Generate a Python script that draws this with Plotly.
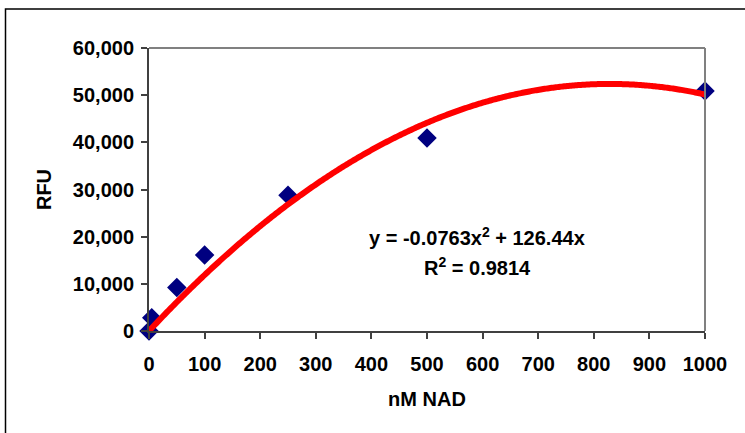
import numpy as np
import plotly.graph_objects as go

# Data
nad_nm = [0, 5, 50, 100, 250, 500, 1000]
rfu = [0, 2800, 9200, 16100, 28800, 40900, 50900]

# Trendline equation shown on the chart
trend_a = -0.0763
trend_b = 126.44
equation_text = "y = -0.0763x<sup>2</sup> + 126.44x"
r2_text = "R<sup>2</sup> = 0.9814"

x_ticks = [0, 100, 200, 300, 400, 500, 600, 700, 800, 900, 1000]
y_ticks = [0, 10000, 20000, 30000, 40000, 50000, 60000]

x_fit = np.linspace(min(nad_nm), max(nad_nm), 400)
y_fit = trend_a * x_fit ** 2 + trend_b * x_fit

FONT = "Liberation Sans, Arial, sans-serif"
FS = 20

W, H = 745, 433
L, T = 149, 48
pw, ph = 556, 283
R = W - L - pw
B = H - T - ph

def px(xp):
    return (xp - L) / pw

def py(yp):
    return (T + ph - yp) / ph

fig = go.Figure()
fig.add_trace(go.Scatter(
    x=nad_nm, y=rfu, mode="markers",
    marker=dict(symbol="diamond", size=15, color="#000080", line=dict(width=0)),
    cliponaxis=False, showlegend=False, hoverinfo="skip",
))
fig.add_trace(go.Scatter(
    x=x_fit, y=y_fit, mode="lines",
    line=dict(color="#FF0000", width=6, simplify=False),
    cliponaxis=False, showlegend=False, hoverinfo="skip",
))

fig.update_layout(
    width=W, height=H,
    margin=dict(l=L, r=R, t=T, b=B, pad=0),
    paper_bgcolor="white", plot_bgcolor="white",
    font=dict(family=FONT, size=FS, color="black"),
    xaxis=dict(
        range=[0, 1000], tickvals=x_ticks, showgrid=False, zeroline=False,
        showline=True, linecolor="#404040", linewidth=2,
        ticks="outside", ticklen=6, tickwidth=1.5, tickcolor="#404040",
        ticklabelstandoff=8,
        tickfont=dict(family=FONT, size=FS, weight="bold"),
        title=dict(text="nM NAD", font=dict(family=FONT, size=FS, weight="bold"), standoff=18),
    ),
    yaxis=dict(
        range=[0, 60000], tickvals=y_ticks, tickformat=",", showgrid=False, zeroline=False,
        showline=True, linecolor="#404040", linewidth=2,
        ticks="outside", ticklen=6, tickwidth=1.5, tickcolor="#404040",
        ticklabelstandoff=3,
        tickfont=dict(family=FONT, size=FS, weight="bold"),
        title=dict(text="RFU", font=dict(family=FONT, size=FS, weight="bold"), standoff=16),
    ),
    shapes=[
        dict(type="line", xref="paper", yref="paper", x0=0, x1=1, y0=1, y1=1,
             line=dict(color="#808080", width=2)),
        dict(type="line", xref="paper", yref="paper", x0=1, x1=1, y0=0, y1=1,
             line=dict(color="#808080", width=2)),
        dict(type="rect", xref="paper", yref="paper",
             x0=px(5.5), x1=px(770), y0=py(460), y1=py(9),
             line=dict(color="black", width=1.5), layer="below"),
    ],
    annotations=[
        dict(text=equation_text, xref="paper", yref="paper", x=px(477), y=py(236),
             showarrow=False, xanchor="center", yanchor="middle",
             font=dict(family=FONT, size=FS, weight="bold")),
        dict(text=r2_text, xref="paper", yref="paper", x=px(477), y=py(266),
             showarrow=False, xanchor="center", yanchor="middle",
             font=dict(family=FONT, size=FS, weight="bold")),
    ],
)

fig.write_html("out.html", config={"displayModeBar": False},
               post_script="document.body.style.margin='0';")
